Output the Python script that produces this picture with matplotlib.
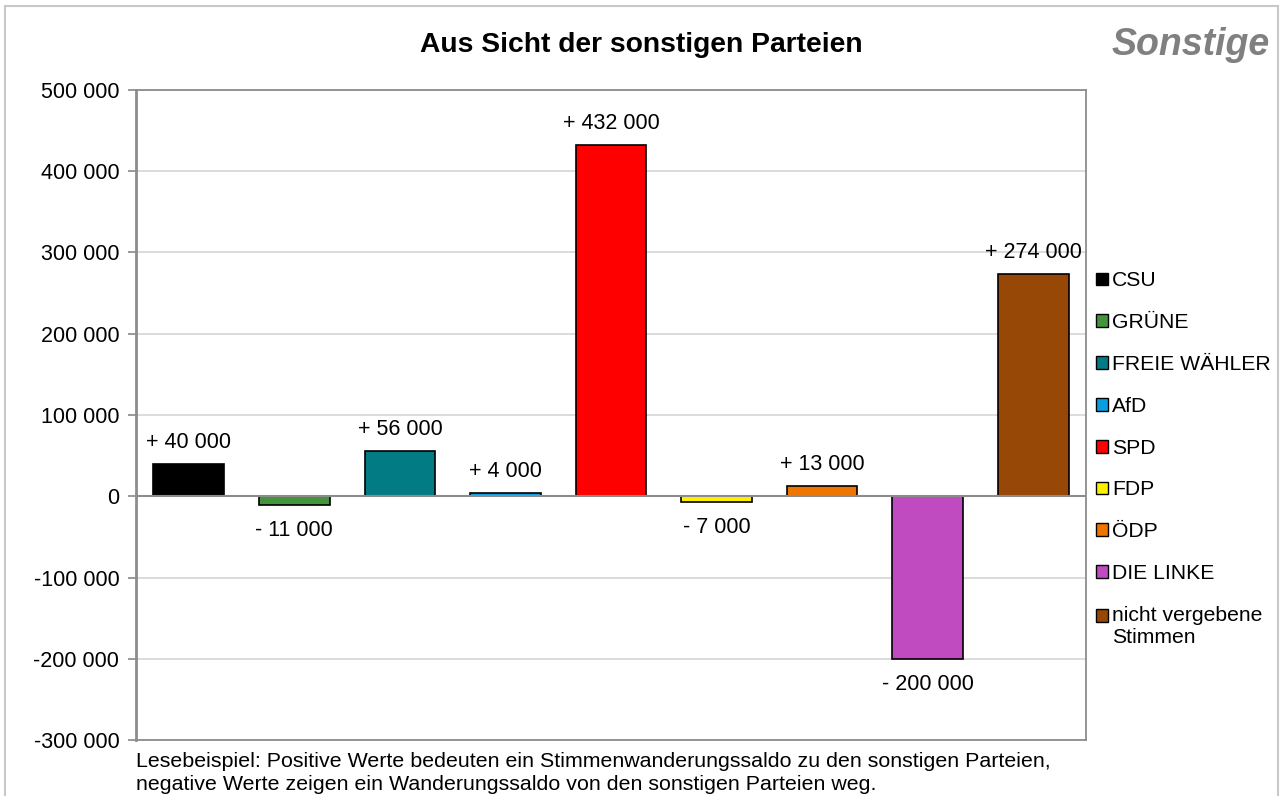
import matplotlib
matplotlib.use("Agg")
from matplotlib import pyplot as plt
from matplotlib.patches import Rectangle, Patch

plt.rcParams['font.family'] = ['Liberation Sans', 'DejaVu Sans']

# data
parteien = ['CSU', 'GRÜNE', 'FREIE WÄHLER', 'AfD', 'SPD', 'FDP', 'ÖDP',
            'DIE LINKE', 'nicht vergebene\nStimmen']
saldo = [40000, -11000, 56000, 4000, 432000, -7000, 13000, -200000, 274000]
farben = ['#000000', '#43943b', '#037b85', '#0a9de0', '#ff0000', '#fff000',
          '#ee7600', '#c04abf', '#974706']
yticks = [-300000, -200000, -100000, 0, 100000, 200000, 300000, 400000, 500000]


def fmt_num(v):
    return f"{abs(v):,}".replace(",", " ")


W, H = 1287, 796
fig = plt.figure(figsize=(W / 100, H / 100), dpi=100)

# outer frame
fig.patches.append(Rectangle((5 / W, -0.05), 1273 / W, 1.05 - 6 / H,
                             transform=fig.transFigure, fill=False,
                             edgecolor='#c8c8c8', lw=1.5))

ax = fig.add_axes([136 / W, 1 - 740 / H, 950 / W, 650 / H])
x = range(len(parteien))
bars = ax.bar(x, saldo, width=0.67, color=farben, edgecolor='black',
              linewidth=1.2, zorder=3)

ax.set_ylim(-300000, 500000)
ax.set_xlim(-0.5, len(parteien) - 0.5)
ax.set_yticks(yticks)
ax.set_yticklabels([('-' if v < 0 else '') + fmt_num(v) for v in yticks],
                   fontsize=15.5)
ax.set_xticks([])
ax.tick_params(axis='y', length=6, color='#888888', width=1.2, pad=6)
ax.grid(axis='y', color='#d9d9d9', lw=1.3, zorder=0)
ax.axhline(0, color='#8c8c8c', lw=1.5, zorder=4)
for s in ax.spines.values():
    s.set_color('#8c8c8c')
    s.set_linewidth(1.3)
ax.spines['left'].set_linewidth(2)

# bar labels
for xi, v in zip(x, saldo):
    if v >= 0:
        ax.annotate('+ ' + fmt_num(v), (xi, v), xytext=(0, 8),
                    textcoords='offset points', ha='center', va='bottom',
                    fontsize=15.5)
    else:
        ax.annotate('- ' + fmt_num(v), (xi, v), xytext=(0, -11),
                    textcoords='offset points', ha='center', va='top',
                    fontsize=15.5)

# legend
handles = [Patch(facecolor=c, edgecolor='black', lw=1) for c in farben]
leg = fig.legend(handles, parteien, loc='upper left',
                 bbox_to_anchor=(1088 / W, 1 - 263 / H), frameon=False,
                 fontsize=15.2, handlelength=0.55, handleheight=0.55,
                 handletextpad=0.2, labelspacing=1.08, borderaxespad=0)
# square of the two-line entry sits next to the first line
last = leg.get_patches()[-1]
last.set_y(last.get_y() + 8)

fig.text(641 / W, 1 - 45 / H, 'Aus Sicht der sonstigen Parteien',
         ha='center', va='center', fontsize=20.3, fontweight='bold')
fig.text(1270 / W, 1 - 45 / H, 'Sonstige', ha='right', va='center',
         fontsize=27, fontweight='bold', style='italic', color='#808080')
fig.text(136 / W, 1 - 773 / H,
         'Lesebeispiel: Positive Werte bedeuten ein Stimmenwanderungssaldo zu den sonstigen Parteien,\n'
         'negative Werte zeigen ein Wanderungssaldo von den sonstigen Parteien weg.',
         ha='left', va='center', fontsize=15.4, linespacing=1.25)

fig.savefig('out.png', dpi=100)
